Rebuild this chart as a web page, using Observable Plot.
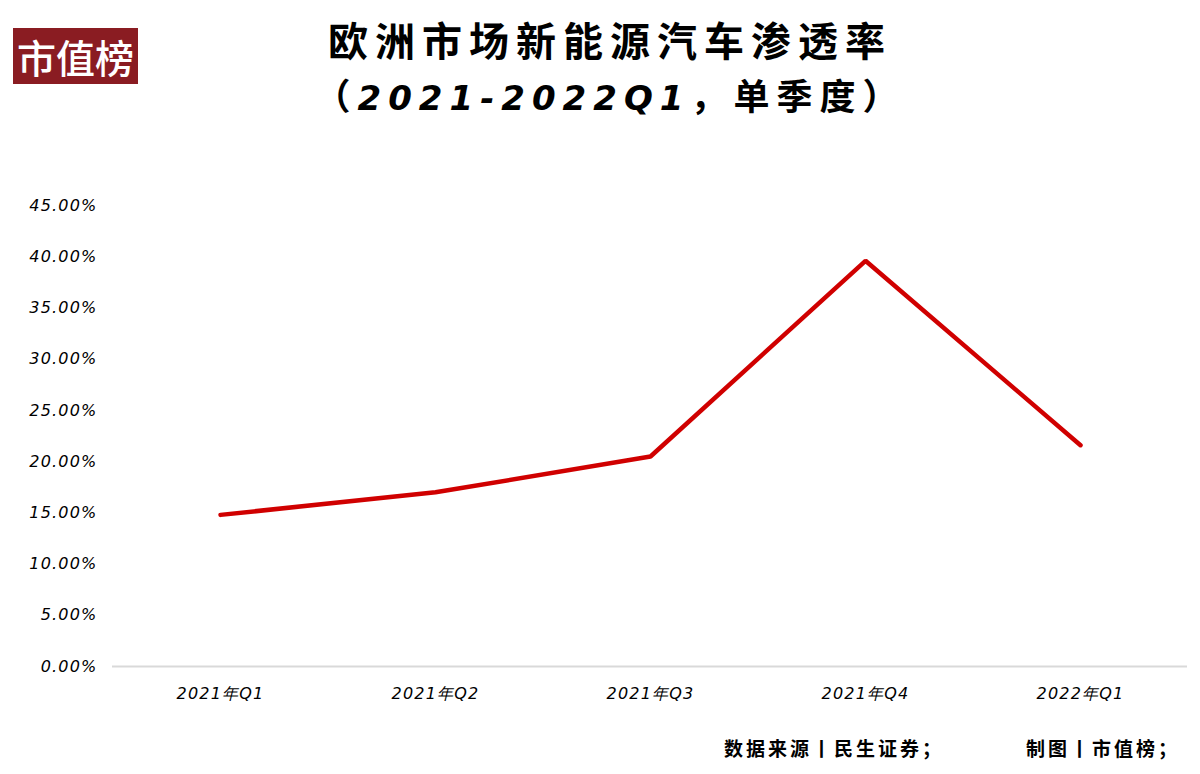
<!DOCTYPE html>
<html><head><meta charset="utf-8">
<script src="https://cdn.jsdelivr.net/npm/d3@7"></script>
<script src="https://cdn.jsdelivr.net/npm/@observablehq/plot@0.6"></script>
<style>
body{margin:0;background:#fff;}
#wrap{position:relative;width:1200px;height:774px;overflow:hidden;background:#fff;font-family:"Noto Sans CJK SC","Noto Sans",sans-serif;color:#000;}
#logo{position:absolute;left:13px;top:28px;width:125px;height:56px;background:#8a1c22;color:#fff;font-size:39px;line-height:56px;text-align:center;font-weight:500;letter-spacing:0px;}
.title{position:absolute;left:210px;width:800px;text-align:center;font-weight:700;white-space:nowrap;}
#t1{top:12px;font-size:40px;letter-spacing:7px;line-height:54px;}
#t2{top:67px;font-size:36px;letter-spacing:7px;line-height:54px;}
#t2 i{font-family:"DejaVu Sans";font-style:italic;font-weight:bold;font-size:34px;}
#chart{position:absolute;left:0;top:180px;}
.foot{position:absolute;top:735px;font-size:19px;font-weight:700;letter-spacing:3px;white-space:nowrap;line-height:26px;}
#chart svg text{letter-spacing:1.2px;}
</style></head><body>
<div id="wrap">
  <div id="logo">市值榜</div>
  <div class="title" id="t1">欧洲市场新能源汽车渗透率</div>
  <div class="title" id="t2">（<i>2021-2022Q1</i>，单季度）</div>
  <div id="chart"></div>
  <div class="foot" style="left:724px;">数据来源丨民生证券；</div>
  <div class="foot" style="left:1026px;">制图丨市值榜；</div>
</div>
<script>
const quarters = ["2021年Q1","2021年Q2","2021年Q3","2021年Q4","2022年Q1"];
const penetration = [14.8, 17.0, 20.5, 39.6, 21.6];
const yTicks = [0,5,10,15,20,25,30,35,40,45];

const data = quarters.map((q,i)=>({q, v: penetration[i]}));

const chart = Plot.plot({
  width:1200, height:536,
  marginLeft:112, marginRight:13, marginTop:25, marginBottom:50,
  style:{background:"transparent", color:"#000"},
  x:{type:"point", domain:quarters, padding:0.5, label:null},
  y:{domain:[0,45], label:null},
  marks:[
    Plot.axisY({ticks:yTicks, tickSize:0, tickPadding:15, tickFormat:d=>d.toFixed(2)+"%",
      fontSize:16, fontStyle:"italic", fontFamily:"DejaVu Sans", label:null}),
    Plot.axisX({tickSize:0, tickPadding:21, fontSize:16, fontStyle:"italic", fontFamily:"DejaVu Sans", label:null}),
    Plot.ruleY([0], {stroke:"#d9d9d9", strokeWidth:2}),
    Plot.line(data, {x:"q", y:"v", stroke:"#d00000", strokeWidth:4.5, strokeLinejoin:"miter"})
  ]
});
document.getElementById("chart").appendChild(chart);
</script>
</body></html>
